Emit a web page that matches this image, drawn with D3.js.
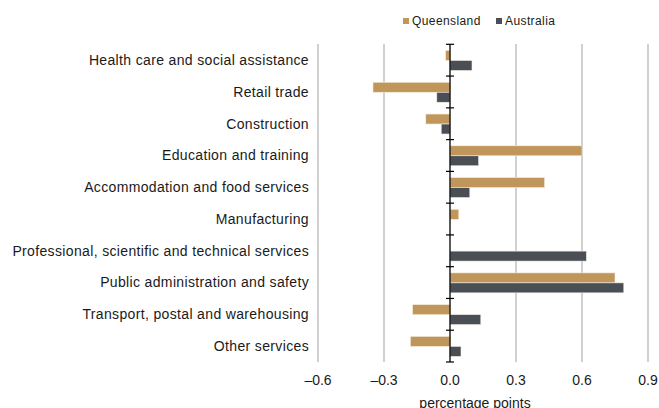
<!DOCTYPE html>
<html><head><meta charset="utf-8">
<script src="https://cdn.jsdelivr.net/npm/d3@7"></script>
<style>body{margin:0;background:#fff}svg{display:block}text{font-family:"Liberation Sans",Arial,sans-serif;fill:#1a1a1a}</style>
</head><body><svg id="c" width="659" height="408"></svg>
<script>
const categories = ["Health care and social assistance","Retail trade","Construction","Education and training","Accommodation and food services","Manufacturing","Professional, scientific and technical services","Public administration and safety","Transport, postal and warehousing","Other services"];
const queensland = [-0.02,-0.35,-0.11,0.60,0.43,0.04,0.0,0.75,-0.17,-0.18];
const australia = [0.10,-0.06,-0.04,0.13,0.09,0.0,0.62,0.79,0.14,0.05];
const seriesNames = ["Queensland","Australia"];
const colors = ["#C0965A","#4A4E55"];
const xTicks = [-0.6,-0.3,0.0,0.3,0.6,0.9];

const svg = d3.select("#c");
const x = d3.scaleLinear().domain([-0.6,0.9]).range([318,648]);
const y = d3.scaleBand().domain(categories).range([44.3,362]).paddingInner(0).paddingOuter(0);
const inner = d3.scaleBand().domain(seriesNames).range([6.2, y.bandwidth()-5.6]);

// gridlines
svg.append("g").selectAll("line").data(xTicks.filter(d=>d!==0)).join("line")
  .attr("x1",d=>x(d)).attr("x2",d=>x(d)).attr("y1",44).attr("y2",362)
  .attr("stroke","#c0c0c0").attr("stroke-width",1.5);

// bars
const data = [];
categories.forEach((c,i)=>{ data.push({c,s:"Queensland",v:queensland[i]}); data.push({c,s:"Australia",v:australia[i]}); });
svg.append("g").selectAll("rect").data(data.filter(d=>d.v!==0)).join("rect")
  .attr("x",d=>x(Math.min(0,d.v))).attr("width",d=>Math.abs(x(d.v)-x(0)))
  .attr("y",d=>y(d.c)+inner(d.s)).attr("height",inner.bandwidth())
  .attr("fill",d=>colors[seriesNames.indexOf(d.s)])
  .attr("stroke","#f3ece0").attr("stroke-width",0.6);

// zero axis with ticks at category boundaries
const zg = svg.append("g");
zg.append("line").attr("x1",x(0)).attr("x2",x(0)).attr("y1",44).attr("y2",362).attr("stroke","#000").attr("stroke-width",1.3);
const bounds = categories.map(c=>y(c)).concat([y.range()[1]]);
zg.selectAll("line.t").data(bounds).join("line").attr("class","t")
  .attr("x1",x(0)-4).attr("x2",x(0)+4).attr("y1",d=>d).attr("y2",d=>d).attr("stroke","#000").attr("stroke-width",1.2);

// category labels
svg.append("g").selectAll("text").data(categories).join("text")
  .attr("x",309).attr("y",d=>y(d)+y.bandwidth()/2).attr("dy","0.35em")
  .attr("text-anchor","end").attr("font-size",14).attr("letter-spacing","0.35px").text(d=>d);

// x tick labels
const fmt = d=> (d<0?"\u2013":"") + Math.abs(d).toFixed(1);
svg.append("g").selectAll("text").data(xTicks).join("text")
  .attr("x",d=>x(d)).attr("y",385).attr("text-anchor","middle").attr("font-size",14).text(fmt);

svg.append("text").attr("x",475).attr("y",408).attr("text-anchor","middle").attr("font-size",14).text("percentage points");

// legend
const leg = svg.append("g");
const lx = [403,496];
seriesNames.forEach((s,i)=>{
  leg.append("rect").attr("x",lx[i]).attr("y",18).attr("width",6).attr("height",6).attr("fill",colors[i]);
  leg.append("text").attr("x",lx[i]+9).attr("y",25).attr("font-size",12).attr("letter-spacing","0.4px").text(s);
});
</script></body></html>
